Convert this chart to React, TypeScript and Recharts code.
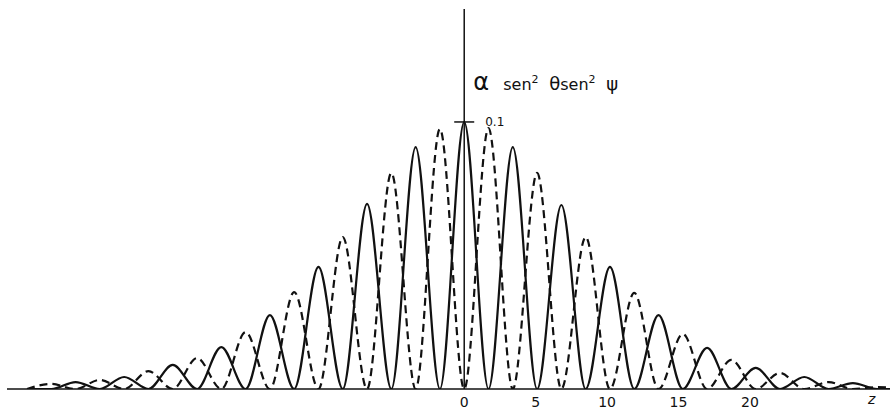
import { LineChart, Line, XAxis, YAxis, ReferenceLine } from "recharts";

// z positions of the lobe peaks / zeros (every 1.7 units)
const zValues = [
  -30.6, -28.9, -27.2, -25.5, -23.8, -22.1, -20.4, -18.7, -17.0, -15.3, -13.6,
  -11.9, -10.2, -8.5, -6.8, -5.1, -3.4, -1.7, 0, 1.7, 3.4, 5.1, 6.8, 8.5, 10.2,
  11.9, 13.6, 15.3, 17.0, 18.7, 20.4, 22.1, 23.8, 25.5, 27.2, 28.9, 30.6,
];

// solid curve: peaks at even positions, zero between
const solidValues = [
  0, 0, 0.0026, 0, 0.0045, 0, 0.009, 0, 0.0157, 0, 0.0277, 0, 0.0457, 0,
  0.0693, 0, 0.0906, 0, 0.1, 0, 0.0906, 0, 0.0689, 0, 0.0457, 0, 0.0277, 0,
  0.0154, 0, 0.0079, 0, 0.0045, 0, 0.0022, 0, 0,
];

// dashed curve: peaks at odd positions
const dashedValues = [
  0, 0.0019, 0, 0.0034, 0, 0.0067, 0, 0.0116, 0, 0.0213, 0, 0.0363, 0, 0.0569,
  0, 0.0809, 0, 0.0974, 0, 0.0977, 0, 0.0809, 0, 0.0569, 0, 0.036, 0, 0.0206,
  0, 0.0109, 0, 0.006, 0, 0.0026, 0, 0.0007, 0,
];

const xTicks = [0, 5, 10, 15, 20];

const INK = "#111";
const FONT = "'DejaVu Sans', sans-serif";

const data = zValues.map((z, i) => ({
  z,
  solid: solidValues[i],
  dashed: dashedValues[i],
}));

function TitleLabel(props: any) {
  const { viewBox } = props;
  const x0 = viewBox.x + 9;
  const y0 = viewBox.y + 81;
  return (
    <text y={y0} fill={INK} fontFamily={FONT}>
      <tspan x={x0} fontSize={24}>α</tspan>
      <tspan x={x0 + 30} fontSize={16}>sen</tspan>
      <tspan fontSize={11} dy={-7}>2</tspan>
      <tspan x={x0 + 76} dy={7} fontSize={18}>θ</tspan>
      <tspan fontSize={16}>sen</tspan>
      <tspan fontSize={11} dy={-7}>2</tspan>
      <tspan x={x0 + 133} dy={7} fontSize={18}>ψ</tspan>
    </text>
  );
}

function TickLabel(props: any) {
  const { viewBox } = props;
  return (
    <text
      x={viewBox.x + viewBox.width + 11}
      y={viewBox.y + 4}
      fill={INK}
      fontFamily={FONT}
      fontSize={12}
    >
      0.1
    </text>
  );
}

function ZLabel(props: any) {
  const { viewBox } = props;
  return (
    <text
      x={viewBox.x + viewBox.width - 22}
      y={viewBox.y + 15}
      fill={INK}
      fontFamily={FONT}
      fontStyle="italic"
      fontSize={14}
    >
      z
    </text>
  );
}

export default function App() {
  return (
    <div style={{ position: "absolute", left: 0, top: 0, background: "#fff" }}>
      <LineChart
        width={890}
        height={410}
        data={data}
        margin={{ top: 9, right: 0, left: 7, bottom: 0 }}
      >
        <XAxis
          dataKey="z"
          type="number"
          domain={[-32, 29.8]}
          allowDataOverflow
          ticks={xTicks}
          height={21}
          tickLine={false}
          axisLine={{ stroke: INK, strokeWidth: 1.5 }}
          tick={{ fill: INK, fontSize: 14, fontFamily: FONT }}
          label={<ZLabel />}
        />
        <YAxis hide type="number" domain={[0, 0.1423]} allowDataOverflow />
        <ReferenceLine
          x={0}
          stroke={INK}
          strokeWidth={1.5}
          label={<TitleLabel />}
        />
        <ReferenceLine
          segment={[
            { x: -0.7, y: 0.1 },
            { x: 0.7, y: 0.1 },
          ]}
          stroke={INK}
          strokeWidth={1.5}
          label={<TickLabel />}
        />
        <Line
          type="monotone"
          dataKey="solid"
          stroke={INK}
          strokeWidth={2.2}
          dot={false}
          isAnimationActive={false}
        />
        <Line
          type="monotone"
          dataKey="dashed"
          stroke={INK}
          strokeWidth={2.2}
          strokeDasharray="8 5"
          dot={false}
          isAnimationActive={false}
        />
      </LineChart>
    </div>
  );
}
